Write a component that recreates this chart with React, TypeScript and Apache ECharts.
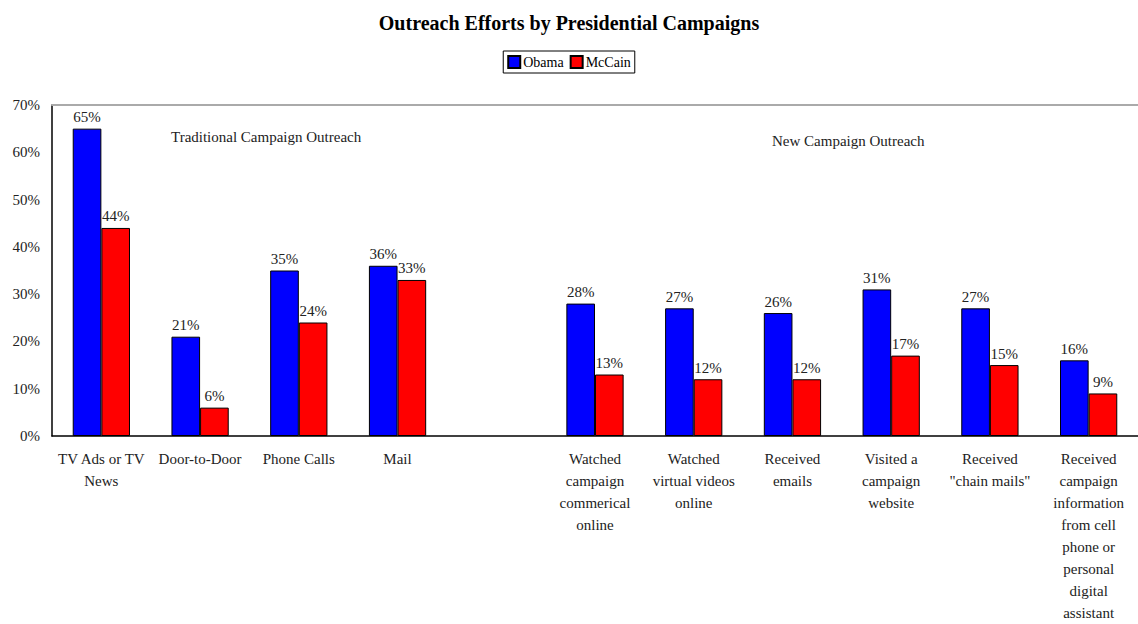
import React, { useEffect, useRef } from "react";
import * as echarts from "echarts";

const categories = [
  "TV Ads or TV\nNews",
  "Door-to-Door",
  "Phone Calls",
  "Mail",
  "",
  "Watched\ncampaign\ncommerical\nonline",
  "Watched\nvirtual videos\nonline",
  "Received\nemails",
  "Visited a\ncampaign\nwebsite",
  "Received\n\"chain mails\"",
  "Received\ncampaign\ninformation\nfrom cell\nphone or\npersonal\ndigital\nassistant",
];
const obama = [65, 21, 35, 36, null, 28, 27, 26, 31, 27, 16];
const mccain = [44, 6, 24, 33, null, 13, 12, 12, 17, 15, 9];
const yTicks = { min: 0, max: 70, interval: 10 };

const FONT = "'Liberation Serif', 'DejaVu Serif', serif";

export default function App() {
  const ref = useRef<HTMLDivElement>(null);
  useEffect(() => {
    if (!ref.current) return;
    const chart = echarts.init(ref.current, undefined, { renderer: "svg" });
    const labelStyle = {
      show: true,
      position: "top" as const,
      distance: 4,
      formatter: "{c}%",
      fontFamily: FONT,
      fontSize: 15,
      color: "#222",
    };
    chart.setOption({
      animation: false,
      textStyle: { fontFamily: FONT },
      title: {
        text: "Outreach Efforts by Presidential Campaigns",
        left: "center",
        top: 8,
        textStyle: { fontFamily: FONT, fontWeight: "bold", fontSize: 20, color: "#000" },
      },
      legend: {
        top: 51,
        left: "center",
        itemWidth: 12,
        itemHeight: 12,
        itemGap: 6,
        padding: [4, 4, 4, 4],
        borderColor: "#000",
        borderWidth: 1,
        textStyle: { fontFamily: FONT, fontSize: 14, color: "#000", padding: [0, 0, 0, -2] },
        data: [
          { name: "Obama", icon: "rect" },
          { name: "McCain", icon: "rect" },
        ],
      },
      grid: { left: 52, right: 0, top: 105, bottom: 184 },
      xAxis: [
        {
          type: "category",
          data: categories,
          axisLine: { lineStyle: { color: "#000", width: 1.5 } },
          axisTick: { show: false },
          axisLabel: {
            interval: 0,
            fontFamily: FONT,
            fontSize: 15,
            lineHeight: 22,
            color: "#222",
            margin: 12,
            align: "center",
          },
        },
        {
          type: "category",
          position: "top",
          data: categories,
          axisLine: { lineStyle: { color: "#aaa", width: 2 } },
          axisTick: { show: false },
          axisLabel: { show: false },
        },
      ],
      yAxis: {
        type: "value",
        min: yTicks.min,
        max: yTicks.max,
        interval: yTicks.interval,
        axisLine: { show: true, lineStyle: { color: "#000", width: 1.5 } },
        axisTick: { show: false },
        splitLine: { show: false },
        axisLabel: {
          formatter: "{value}%",
          fontFamily: FONT,
          fontSize: 15,
          color: "#222",
          margin: 12,
        },
      },
      graphic: [
        {
          type: "text",
          left: 171,
          top: 129,
          style: { text: "Traditional Campaign Outreach", fontFamily: FONT, fontSize: 15, fill: "#222" },
        },
        {
          type: "text",
          left: 772,
          top: 133,
          style: { text: "New Campaign Outreach", fontFamily: FONT, fontSize: 15, fill: "#222" },
        },
      ],
      series: [
        {
          name: "Obama",
          type: "bar",
          data: obama,
          barWidth: "29%",
          barGap: "0%",
          itemStyle: { color: "#0000ff", borderColor: "#000", borderWidth: 1 },
          label: labelStyle,
        },
        {
          name: "McCain",
          type: "bar",
          data: mccain,
          barWidth: "29%",
          barGap: "0%",
          itemStyle: { color: "#ff0000", borderColor: "#000", borderWidth: 1 },
          label: labelStyle,
        },
      ],
    });
    return () => chart.dispose();
  }, []);
  return (
    <div
      ref={ref}
      style={{ position: "fixed", left: 0, top: 0, width: 1138, height: 624, background: "#fff" }}
    />
  );
}
